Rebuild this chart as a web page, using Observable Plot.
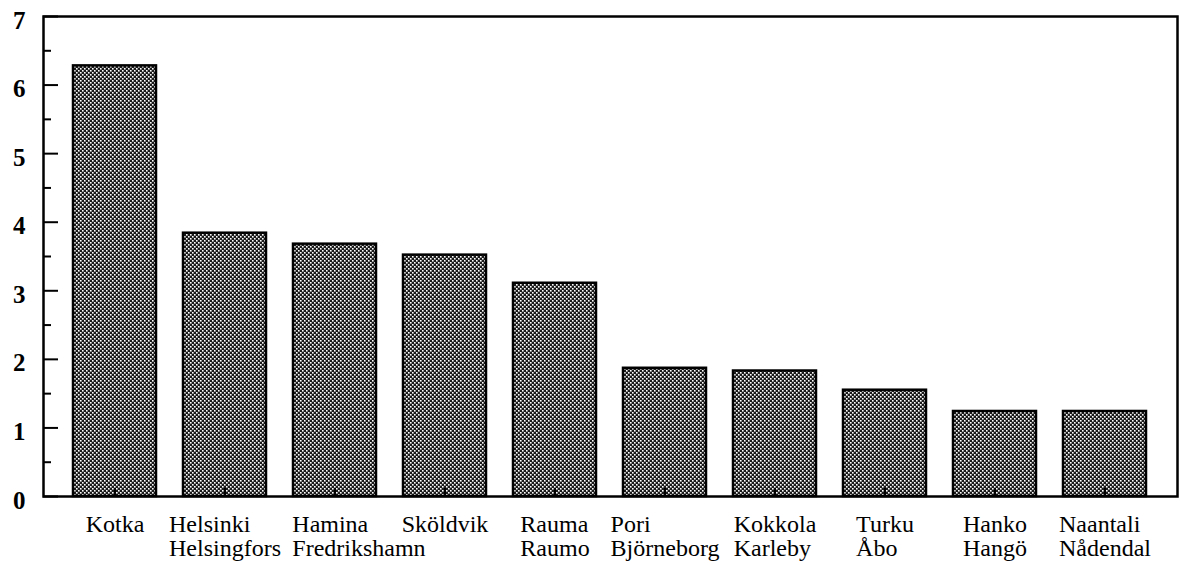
<!DOCTYPE html>
<html>
<head>
<meta charset="utf-8">
<script src="https://cdn.jsdelivr.net/npm/d3@7"></script>
<script src="https://cdn.jsdelivr.net/npm/@observablehq/plot@0.6"></script>
<style>
  html, body { margin: 0; padding: 0; background: #fff; }
  #chart { width: 1180px; height: 565px; }
</style>
</head>
<body>
<div id="chart"></div>
<script>
// Data
const ports = ["Kotka", "Helsinki", "Hamina", "Sköldvik", "Rauma", "Pori", "Kokkola", "Turku", "Hanko", "Naantali"];
const swedishNames = ["", "Helsingfors", "Fredrikshamn", "", "Raumo", "Björneborg", "Karleby", "Åbo", "Hangö", "Nådendal"];
const values = [6.28, 3.84, 3.68, 3.52, 3.11, 1.87, 1.83, 1.55, 1.24, 1.24];
const majorTicks = [0, 1, 2, 3, 4, 5, 6, 7];
const minorTicks = [0.5, 1.5, 2.5, 3.5, 4.5, 5.5, 6.5];

const data = ports.map((p, i) => ({port: p, sv: swedishNames[i], value: values[i]}));

const W = 1180, H = 565;
const mL = 43, mR = 3, mT = 16, mB = 69;
const plotW = W - mL - mR, plotH = H - mT - mB;
const FONT = "'Liberation Serif', 'Times New Roman', serif";
const labelSize = 24;
const xOpts = {domain: ports, paddingInner: 0.241, paddingOuter: 0.2425};

// measure label lines so each two-line label is left aligned and centred as a block,
// nudged right when it would collide with its left neighbour
const ctx = document.createElement("canvas").getContext("2d");
ctx.font = `${labelSize}px ${FONT}`;
const xs = Plot.scale({x: {...xOpts, type: "band", range: [mL, W - mR]}});
const prevEnd = [-Infinity, -Infinity];
const labelMarks = data.map(d => {
  const lines = d.sv ? [d.port, d.sv] : [d.port];
  const widths = lines.map(l => ctx.measureText(l).width);
  const center = xs.apply(d.port) + xs.bandwidth / 2;
  let s = center - Math.max(...widths) / 2;
  lines.forEach((l, r) => { s = Math.max(s, prevEnd[r] + 12); });
  lines.forEach((l, r) => { prevEnd[r] = s + widths[r]; });
  return Plot.text([d], {
    x: "port",
    text: () => lines.join("\n"),
    frameAnchor: "bottom",
    textAnchor: "start",
    lineAnchor: "top",
    lineHeight: 1.0,
    dx: s - center,
    dy: 18,
    fontSize: labelSize,
    fill: "#000"
  });
});

const chart = Plot.plot({
  width: W,
  height: H,
  marginLeft: mL,
  marginRight: mR,
  marginTop: mT,
  marginBottom: mB,
  style: {fontFamily: FONT, color: "#000", background: "#fff"},
  x: {...xOpts, axis: null},
  y: {domain: [0, 7], axis: null},
  marks: [
    Plot.barY(data, {x: "port", y: "value", fill: "url(#halftone)", stroke: "#000", strokeWidth: 2.5}),
    Plot.tickX(ports, {x: d => d, stroke: "#000", strokeWidth: 2, insetTop: plotH - 8}),
    Plot.tickY(majorTicks, {y: d => d, stroke: "#000", strokeWidth: 2, insetRight: plotW - 15}),
    Plot.tickY(minorTicks, {y: d => d, stroke: "#000", strokeWidth: 2, insetRight: plotW - 8}),
    Plot.frame({stroke: "#000", strokeWidth: 2.5}),
    Plot.axisY({ticks: majorTicks, tickSize: 0, tickPadding: 18, fontSize: 25, fontWeight: "bold", tickFormat: d3.format("d"), dy: 4, label: null}),
    ...labelMarks
  ]
});

// halftone pattern for the bars
const ns = "http://www.w3.org/2000/svg";
const svg = chart.tagName.toLowerCase() === "svg" ? chart : chart.querySelector("svg");
const defs = document.createElementNS(ns, "defs");
const pat = document.createElementNS(ns, "pattern");
pat.setAttribute("id", "halftone");
pat.setAttribute("patternUnits", "userSpaceOnUse");
pat.setAttribute("width", "4");
pat.setAttribute("height", "4");
const bg = document.createElementNS(ns, "rect");
bg.setAttribute("width", "4"); bg.setAttribute("height", "4"); bg.setAttribute("fill", "#1a1a1a");
pat.appendChild(bg);
[[0, 0], [2, 2]].forEach(([x, y]) => {
  const c = document.createElementNS(ns, "rect");
  c.setAttribute("x", x); c.setAttribute("y", y);
  c.setAttribute("width", "1.6"); c.setAttribute("height", "1.6");
  c.setAttribute("fill", "#fff");
  pat.appendChild(c);
});
defs.appendChild(pat);
svg.insertBefore(defs, svg.firstChild);

document.getElementById("chart").appendChild(chart);
</script>
</body>
</html>
